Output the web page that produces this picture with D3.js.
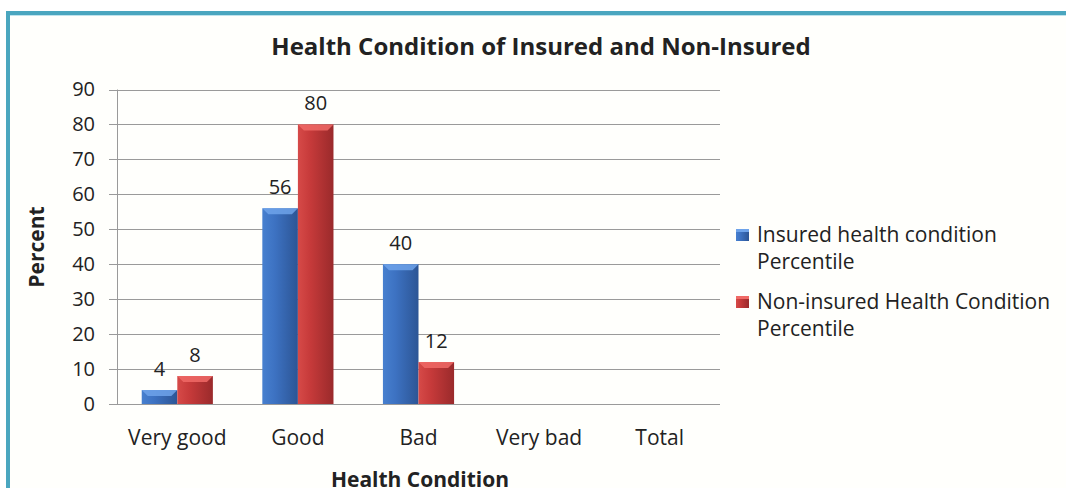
<!DOCTYPE html>
<html>
<head>
<meta charset="utf-8">
<script src="https://cdn.jsdelivr.net/npm/d3@7"></script>
<style>
  body { margin: 0; background: #fff; }
  text { font-family: "Open Sans", Lato, sans-serif; fill: #222; }
</style>
</head>
<body>
<script>
var categories = ['Very good', 'Good', 'Bad', 'Very bad', 'Total'];
var seriesNames = ['Insured health condition Percentile', 'Non-insured Health Condition Percentile'];
var insured = [4, 56, 40, null, null];
var nonInsured = [8, 80, 12, null, null];
var yTicks = [0, 10, 20, 30, 40, 50, 60, 70, 80, 90];

var width = 1066, height = 488;
var plotLeft = 117, plotRight = 720, plotTop = 89.5, plotBottom = 404;

var svg = d3.select('body').append('svg')
    .attr('width', width)
    .attr('height', height);

var defs = svg.append('defs');
function makeGrad(id, c1, c2, c3) {
  var g = defs.append('linearGradient').attr('id', id)
    .attr('x1', '0%').attr('x2', '100%').attr('y1', '0%').attr('y2', '0%');
  g.append('stop').attr('offset', '0%').attr('stop-color', c1);
  g.append('stop').attr('offset', '35%').attr('stop-color', c2);
  g.append('stop').attr('offset', '100%').attr('stop-color', c3);
}
makeGrad('gBlue', '#4780cf', '#3d72c2', '#2c5595');
makeGrad('gRed', '#d64a48', '#c63a3a', '#9a2a2b');

// frame
svg.append('rect').attr('x', 8).attr('y', 13).attr('width', width).attr('height', height)
  .attr('fill', '#fffffc').attr('stroke', '#4aa6bf').attr('stroke-width', 4);
svg.append('line').attr('x1', 10).attr('x2', width).attr('y1', 15.5).attr('y2', 15.5)
  .attr('stroke', '#bfe3ec').attr('stroke-width', 1);

var x = d3.scaleBand().domain(categories).range([plotLeft, plotRight]).paddingInner(0.41).paddingOuter(0.205);
var xs = d3.scaleBand().domain([0, 1]).range([0, x.bandwidth()]);
var y = d3.scaleLinear().domain([0, 90]).range([plotBottom, plotTop]);

// gridlines
svg.append('g').selectAll('line').data(yTicks).enter().append('line')
  .attr('x1', plotLeft - 8).attr('x2', plotRight)
  .attr('y1', function(d) { return Math.round(y(d)) + 0.5; })
  .attr('y2', function(d) { return Math.round(y(d)) + 0.5; })
  .attr('stroke', '#9a9a9a').attr('stroke-width', 1);

svg.append('line').attr('x1', plotLeft + 0.5).attr('x2', plotLeft + 0.5).attr('y1', plotTop).attr('y2', plotBottom)
  .attr('stroke', '#9a9a9a');

var yAxis = d3.axisLeft(y).tickValues(yTicks).tickSize(0).tickPadding(22);
var ya = svg.append('g').attr('transform', 'translate(' + plotLeft + ',0)').call(yAxis);
ya.select('.domain').remove();
ya.selectAll('text').attr('font-size', '20px').attr('fill', '#222').style('font-family', '"Open Sans"');

var xAxis = d3.axisBottom(x).tickSize(0).tickPadding(26);
var xa = svg.append('g').attr('transform', 'translate(0,' + plotBottom + ')').call(xAxis);
xa.select('.domain').remove();
xa.selectAll('text').attr('font-size', '21px').attr('fill', '#222').style('font-family', '"Open Sans"');

// bars
var series = [
  { values: insured, grad: 'url(#gBlue)', cap: '#6ea3ea' },
  { values: nonInsured, grad: 'url(#gRed)', cap: '#f06a66' }
];
series.forEach(function(s, si) {
  var data = categories.map(function(c, i) { return { cat: c, v: s.values[i] }; })
    .filter(function(d) { return d.v != null; });
  var g = svg.append('g');
  g.selectAll('rect').data(data).enter().append('rect')
    .attr('x', function(d) { return x(d.cat) + xs(si); })
    .attr('y', function(d) { return y(d.v); })
    .attr('width', xs.bandwidth())
    .attr('height', function(d) { return y(0) - y(d.v); })
    .attr('fill', s.grad);
  g.selectAll('polygon').data(data).enter().append('polygon')
    .attr('points', function(d) {
      var x0 = x(d.cat) + xs(si), x1 = x0 + xs.bandwidth(), yt = y(d.v);
      var h = Math.min(6, (y(0) - yt) / 2);
      return [[x0, yt], [x1, yt], [x1 - 6, yt + h], [x0 + 6, yt + h]].join(' ');
    })
    .attr('fill', s.cap).attr('opacity', 0.85);
  g.selectAll('text').data(data).enter().append('text')
    .attr('x', function(d) { return x(d.cat) + xs(si) + xs.bandwidth() / 2; })
    .attr('y', function(d) { return y(d.v) - 14; })
    .attr('text-anchor', 'middle')
    .attr('font-size', '20px')
    .text(function(d) { return d.v; });
});

// title
svg.append('text').attr('x', 541).attr('y', 55).attr('text-anchor', 'middle')
  .attr('font-size', '24px').attr('font-weight', 'bold')
  .text('Health Condition of Insured and Non-Insured');

svg.append('text').attr('transform', 'translate(44,247) rotate(-90)')
  .attr('text-anchor', 'middle').attr('font-size', '21px').attr('font-weight', 'bold')
  .text('Percent');

svg.append('text').attr('x', 420).attr('y', 487).attr('text-anchor', 'middle')
  .attr('font-size', '21px').attr('font-weight', 'bold')
  .text('Health Condition');

// legend
var legendRows = [
  { lines: ['Insured health condition', 'Percentile'], fill: 'url(#gBlue)', cap: '#6ea3ea' },
  { lines: ['Non-insured Health Condition', 'Percentile'], fill: 'url(#gRed)', cap: '#f06a66' }
];
var lg = svg.append('g');
legendRows.forEach(function(r, i) {
  var ly = 235 + i * 67;
  lg.append('rect').attr('x', 736).attr('y', ly - 6).attr('width', 13).attr('height', 12).attr('fill', r.fill);
  lg.append('rect').attr('x', 736).attr('y', ly - 6).attr('width', 13).attr('height', 3).attr('fill', r.cap);
  r.lines.forEach(function(t, j) {
    lg.append('text').attr('x', 757).attr('y', ly + 7 + j * 27)
      .attr('font-size', '21px').text(t);
  });
});
</script>
</body>
</html>
